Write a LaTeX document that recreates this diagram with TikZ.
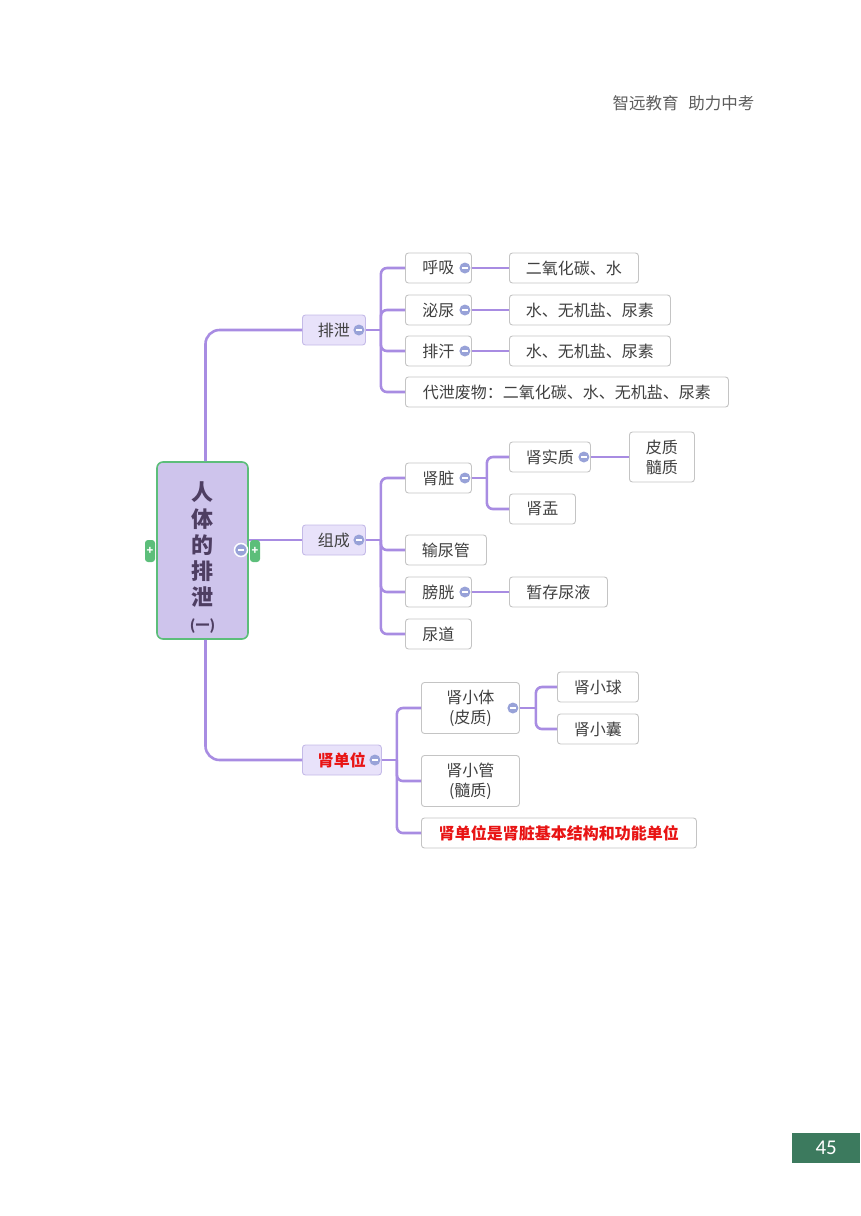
\documentclass[tikz,border=0pt]{standalone}
\usepackage{fontspec}
\setmainfont{Noto Sans CJK SC}
\newfontfamily\numfont{Carlito}
\definecolor{branchc}{RGB}{168,140,226}
\definecolor{boxline}{RGB}{196,196,196}
\definecolor{textc}{RGB}{64,64,64}
\definecolor{topicfill}{RGB}{232,226,250}
\definecolor{topicline}{RGB}{196,186,232}
\definecolor{rootfill}{RGB}{206,196,236}
\definecolor{rootline}{RGB}{92,190,122}
\definecolor{roottext}{RGB}{78,62,98}
\definecolor{foldc}{RGB}{152,162,216}
\definecolor{redc}{RGB}{232,20,20}
\definecolor{pagec}{RGB}{60,122,94}

\begin{document}
\begin{tikzpicture}[x=1pt,y=-1pt,
  leaf/.style={draw=boxline,fill=white,rounded corners=3,line width=0.9pt,
    minimum height=30,anchor=west,inner sep=2pt,align=center,
    font=\fontsize{16}{20}\selectfont,text=textc},
  topic/.style={leaf,draw=topicline,fill=topicfill},
  branch/.style={draw=branchc,line width=2.6pt,rounded corners=6},
  fold/.style={circle,fill=foldc,minimum size=11,inner sep=0pt,
    path picture={\draw[white,line width=1.6pt]
      ([xshift=-3pt]path picture bounding box.center) --
      ([xshift=3pt]path picture bounding box.center);}},
  tab/.style={fill=rootline,rounded corners=3,minimum width=10,minimum height=22,
    inner sep=0pt,text=white,font=\fontsize{11}{11}\selectfont\bfseries}]
\useasboundingbox (0,0) rectangle (860,1216);

% Header and page number
\node[anchor=west,text=textc!85,font=\fontsize{16.5}{20}\selectfont] (header) at (609,103) {智远教育\hspace{0.6em}助力中考};
\node[anchor=north west,fill=pagec,minimum width=68,minimum height=30,text=white,
  font=\numfont\fontsize{21}{24}\selectfont] (pagenum) at (792,1133) {45};

% Root
\node[draw=rootline,fill=rootfill,line width=1.6pt,rounded corners=6,minimum width=91,
  minimum height=177] (root) at (202.5,550.5) {};
\node[align=center,text=roottext,font=\fontsize{22}{26.25}\selectfont\bfseries]
  (root-title) at ([yshift=-7]root.center) {人\\体\\的\\排\\泄\\[-2pt]{\fontsize{14}{16}\selectfont (一)}};

% Main topics
\node[topic,minimum width=63] (paixie) at (302,330) {排泄};
\node[topic,minimum width=63] (zucheng) at (302,540) {组成};
\node[topic,minimum width=79,text=redc,font=\fontsize{16}{20}\selectfont\bfseries] (shendanwei) at (302,760) {肾单位};

% Paixie
\node[leaf,minimum width=66] (huxi) at (405,268) {呼吸};
\node[leaf,minimum width=66] (miniao) at (405,310) {泌尿};
\node[leaf,minimum width=66] (paihan) at (405,351) {排汗};
\node[leaf,minimum width=323] (daixie) at (405,392) {代泄废物：二氧化碳、水、无机盐、尿素};
\node[leaf,minimum width=129] (huxi-out) at (509,268) {二氧化碳、水};
\node[leaf,minimum width=161] (miniao-out) at (509,310) {水、无机盐、尿素};
\node[leaf,minimum width=161] (paihan-out) at (509,351) {水、无机盐、尿素};

% Zucheng
\node[leaf,minimum width=66] (shenzang) at (405,478) {肾脏};
\node[leaf,minimum width=81] (shuniaoguan) at (405,550) {输尿管};
\node[leaf,minimum width=66] (pangguang) at (405,592) {膀胱};
\node[leaf,minimum width=66] (niaodao) at (405,634) {尿道};
\node[leaf,minimum width=81] (shenshizhi) at (509,457) {肾实质};
\node[leaf,minimum width=66] (shenyu) at (509,509) {肾盂};
\node[leaf,minimum width=65,minimum height=50] (pizhi) at (629,457) {皮质\\髓质};
\node[leaf,minimum width=98] (zancun) at (509,592) {暂存尿液};

% Shendanwei
\node[leaf,minimum width=98,minimum height=51] (shenxiaoti) at (421,708) {肾小体\\(皮质)};
\node[leaf,minimum width=98,minimum height=51] (shenxiaoguan) at (421,781) {肾小管\\(髓质)};
\node[leaf,minimum width=275,text=redc,font=\fontsize{16}{20}\selectfont\bfseries] (note) at (421,833) {肾单位是肾脏基本结构和功能单位};
\node[leaf,minimum width=81] (xiaoqiu) at (557,687) {肾小球};
\node[leaf,minimum width=81] (xiaonang) at (557,729) {肾小囊};

% Connectors
\draw[branch,rounded corners=14] ([xshift=3]root.north) |- (paixie.west);
\draw[branch] (root.east |- zucheng.west) -- (zucheng.west);
\draw[branch,rounded corners=14] ([xshift=3]root.south) |- (shendanwei.west);

\draw[branch] (paixie.east) -- ++(15,0) coordinate (paixie-fork);
\foreach \c in {huxi,miniao,paihan,daixie}
  \draw[branch] (paixie-fork) |- (\c.west);
\draw[branch] (huxi.east) -- (huxi-out.west);
\draw[branch] (miniao.east) -- (miniao-out.west);
\draw[branch] (paihan.east) -- (paihan-out.west);

\draw[branch] (zucheng.east) -- ++(15,0) coordinate (zucheng-fork);
\foreach \c in {shenzang,shuniaoguan,pangguang,niaodao}
  \draw[branch] (zucheng-fork) |- (\c.west);
\draw[branch] (shenzang.east) -- ++(15,0) coordinate (shenzang-fork);
\foreach \c in {shenshizhi,shenyu}
  \draw[branch] (shenzang-fork) |- (\c.west);
\draw[branch] (shenshizhi.east) -- (pizhi.west);
\draw[branch] (pangguang.east) -- (zancun.west);

\draw[branch] (shendanwei.east) -- ++(15,0) coordinate (shendanwei-fork);
\foreach \c in {shenxiaoti,shenxiaoguan,note}
  \draw[branch] (shendanwei-fork) |- (\c.west);
\draw[branch] (shenxiaoti.east) -- ++(16,0) coordinate (shenxiaoti-fork);
\foreach \c in {xiaoqiu,xiaonang}
  \draw[branch] (shenxiaoti-fork) |- (\c.west);

% Fold buttons
\foreach \p in {paixie,zucheng,shendanwei,huxi,miniao,paihan,shenzang,shenshizhi,pangguang,shenxiaoti}
  \node[fold] (\p-fold) at ([xshift=-7]\p.east) {};
\node[fold,draw=white,line width=1.5pt,minimum size=13] (root-fold) at (241,550) {};
\node[tab] (tab-l) at (150,551) {+};
\node[tab] (tab-r) at (255,551) {+};
\end{tikzpicture}
\end{document}
